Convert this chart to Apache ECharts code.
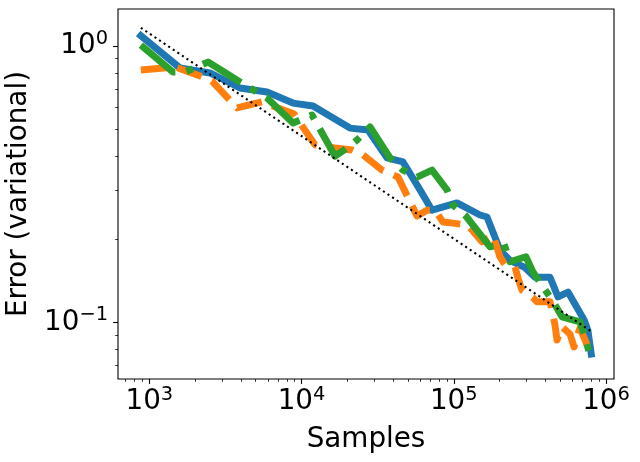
<!DOCTYPE html>
<html>
<head>
<meta charset="utf-8">
<script src="https://cdn.jsdelivr.net/npm/echarts@6/dist/echarts.min.js"></script>
<style>
  html, body { margin: 0; padding: 0; background: #fff; }
  #chart { width: 640px; height: 462px; }
</style>
</head>
<body>
<div id="chart"></div>
<script>
// samples / error values
var xBlue = [880, 1591, 2504, 3943, 5933, 8790, 11900, 20820, 27340, 36430, 46410, 60010, 71950,
  105000, 148800, 165300, 201300, 234100, 293800, 341800, 428800, 484000, 562800, 720000, 760000, 800000];
var yBlue = [1.09, 0.833, 0.799, 0.705, 0.682, 0.622, 0.607, 0.505, 0.497, 0.394, 0.381, 0.302, 0.255,
  0.271, 0.245, 0.241, 0.183, 0.168, 0.158, 0.146, 0.146, 0.124, 0.129, 0.102, 0.094, 0.077];

var xOrange = [880, 1475, 2153, 2581, 3769, 5501, 8924, 12260, 16590, 21460, 25340, 33780, 43020,
  57350, 66720, 75310, 85000, 98860, 124100, 153300, 181100, 201300, 217100, 252600, 264200, 280700,
  331600, 352300, 428800, 462500, 476700, 514100, 580100, 616500, 674500, 727900, 800000];
var yOrange = [0.819, 0.840, 0.779, 0.747, 0.597, 0.628, 0.568, 0.439, 0.428, 0.421, 0.404, 0.356, 0.336,
  0.243, 0.255, 0.255, 0.231, 0.229, 0.225, 0.196, 0.207, 0.173, 0.162, 0.159, 0.145, 0.131,
  0.123, 0.119, 0.119, 0.098, 0.0866, 0.0965, 0.091, 0.0817, 0.0957, 0.0866, 0.0764];

var xGreen = [880, 1431, 1716, 2430, 3943, 5933, 8790, 11710, 16590, 19890, 23140, 28180, 38130,
  46410, 57350, 71950, 90290, 98860, 118600, 173000, 213800, 234100, 297900, 331300, 385700, 441900,
  514000, 674500, 727900, 800000];
var yGreen = [1.008, 0.805, 0.805, 0.875, 0.741, 0.649, 0.527, 0.563, 0.400, 0.428, 0.457, 0.510, 0.394,
  0.356, 0.336, 0.356, 0.302, 0.266, 0.245, 0.188, 0.1925, 0.166, 0.173, 0.1525, 0.1346, 0.121,
  0.105, 0.1006, 0.0888, 0.0733];

var xRef = [880, 800000];
var yRef = [1.164, 0.093];

var xMajor = [1e3, 1e4, 1e5, 1e6];
var xMajorExp = ['3', '4', '5', '6'];
var yMajor = [0.1, 1];
var yMajorExp = ['\u22121', '0'];
var xMinor = [700, 800, 900, 2000, 3000, 4000, 5000, 6000, 7000, 8000, 9000,
  20000, 30000, 40000, 50000, 60000, 70000, 80000, 90000,
  200000, 300000, 400000, 500000, 600000, 700000, 800000, 900000];
var yMinor = [0.07, 0.08, 0.09, 0.2, 0.3, 0.4, 0.5, 0.6, 0.7, 0.8, 0.9];

var FONT = 'DejaVu Sans';
var LW = 6.94;

function pairs(xs, ys) {
  var out = [];
  for (var i = 0; i < xs.length; i++) out.push([xs[i], ys[i]]);
  return out;
}

function expLabel(majors, exps) {
  return function (v) {
    for (var i = 0; i < majors.length; i++) {
      if (Math.abs(v / majors[i] - 1) < 1e-6) return '{b|10}{s|' + exps[i] + '}';
    }
    return '';
  };
}

var richTick = {
  b: { fontFamily: FONT, fontSize: 27.8, color: '#000', lineHeight: 34 },
  s: { fontFamily: FONT, fontSize: 19.4, color: '#000', lineHeight: 20, verticalAlign: 'top' }
};

var gridPos = { left: 118, top: 9, right: 26, bottom: 83 };
var xMin = 622.8, xMax = 1.1287e6;
var yMin = 0.06257, yMax = 1.3608;

var chart = echarts.init(document.getElementById('chart'), null, { renderer: 'canvas' });

var option = {
  animation: false,
  backgroundColor: '#fff',
  grid: [
    Object.assign({ show: true, borderColor: '#000', borderWidth: 1.1, backgroundColor: 'transparent', outerBoundsMode: 'none' }, gridPos),
    Object.assign({ show: false, outerBoundsMode: 'none' }, gridPos)
  ],
  xAxis: [{
    gridIndex: 0,
    type: 'log',
    min: xMin,
    max: xMax,
    name: 'Samples',
    nameLocation: 'middle',
    nameGap: 61,
    nameTextStyle: { fontFamily: FONT, fontSize: 27.8, color: '#000', verticalAlign: 'middle' },
    axisLine: { show: false },
    axisTick: { show: true, length: 4.9, inside: false, customValues: xMajor, lineStyle: { color: '#000', width: 1.1 } },
    axisLabel: { show: true, margin: 6, customValues: xMajor, formatter: expLabel(xMajor, xMajorExp), rich: richTick },
    splitLine: { show: false },
    minorTick: { show: false }
  }, {
    gridIndex: 1,
    type: 'log',
    min: xMin,
    max: xMax,
    axisLine: { show: false },
    axisTick: { show: true, length: 2.8, customValues: xMinor, lineStyle: { color: '#000', width: 0.8 } },
    axisLabel: { show: false },
    splitLine: { show: false }
  }],
  yAxis: [{
    gridIndex: 0,
    type: 'log',
    min: yMin,
    max: yMax,
    name: 'Error (variational)',
    nameLocation: 'middle',
    nameGap: 92,
    nameTextStyle: { fontFamily: FONT, fontSize: 27.8, color: '#000', verticalAlign: 'middle' },
    axisLine: { show: false },
    axisTick: { show: true, length: 4.9, customValues: yMajor, lineStyle: { color: '#000', width: 1.1 } },
    axisLabel: { show: true, margin: 10, customValues: yMajor, formatter: expLabel(yMajor, yMajorExp), rich: richTick },
    splitLine: { show: false }
  }, {
    gridIndex: 1,
    type: 'log',
    min: yMin,
    max: yMax,
    axisLine: { show: false },
    axisTick: { show: true, length: 2.8, customValues: yMinor, lineStyle: { color: '#000', width: 0.8 } },
    axisLabel: { show: false },
    splitLine: { show: false }
  }],
  series: [{
    type: 'line',
    data: pairs(xBlue, yBlue),
    showSymbol: false,
    symbol: 'none',
    silent: true,
    lineStyle: { color: '#1f77b4', width: LW, type: 'solid', cap: 'square', join: 'round' }
  }, {
    type: 'line',
    data: pairs(xOrange, yOrange),
    showSymbol: false,
    symbol: 'none',
    silent: true,
    lineStyle: { color: '#ff7f0e', width: LW, type: [25.7, 11.1], cap: 'butt', join: 'round' }
  }, {
    type: 'line',
    data: pairs(xGreen, yGreen),
    showSymbol: false,
    symbol: 'none',
    silent: true,
    lineStyle: { color: '#2ca02c', width: LW, type: [44.4, 11.1, 6.9, 11.1], cap: 'butt', join: 'round' }
  }, {
    type: 'line',
    data: pairs(xRef, yRef),
    showSymbol: false,
    symbol: 'none',
    silent: true,
    lineStyle: { color: '#000', width: 2.08, type: [2.08, 3.43], cap: 'butt' }
  }]
};

chart.setOption(option);
</script>
</body>
</html>
